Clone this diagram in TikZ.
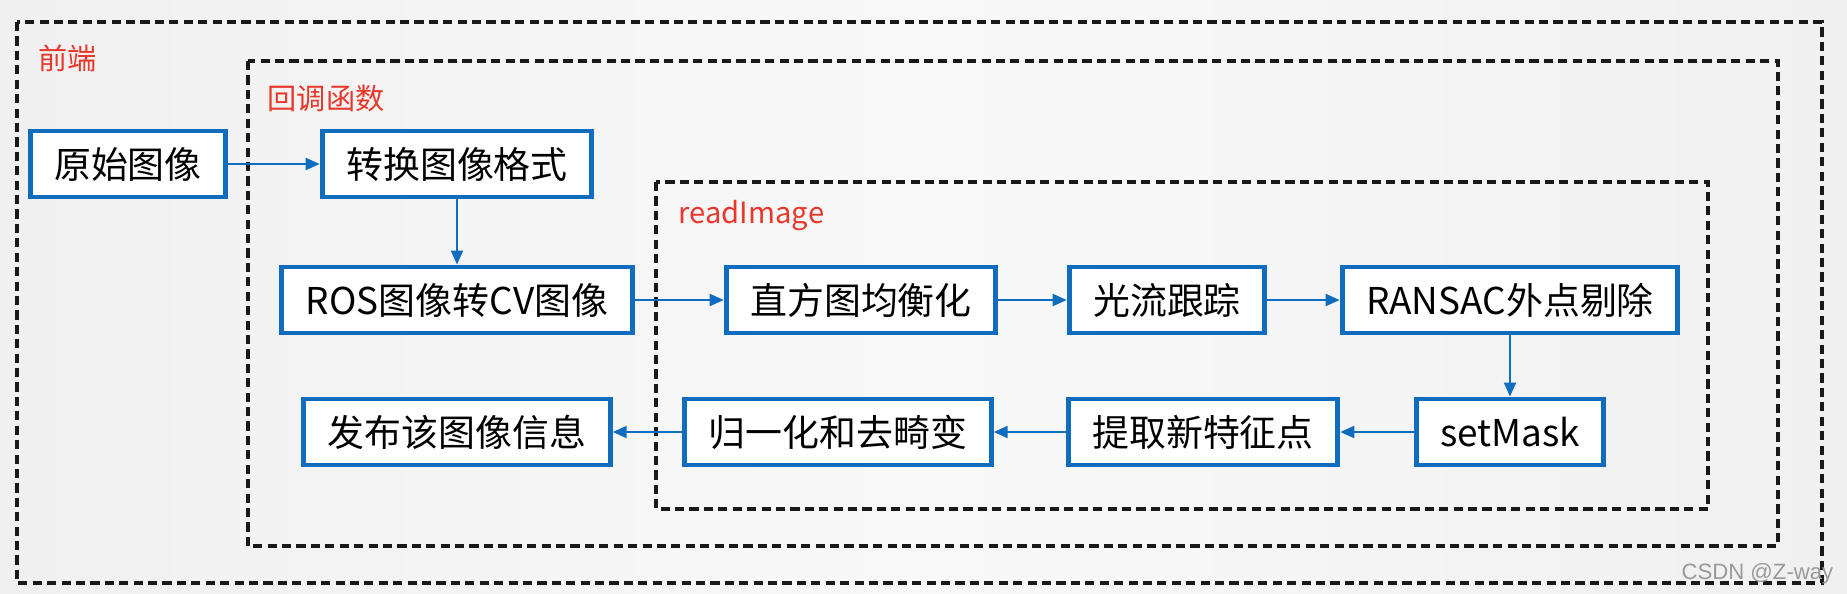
\documentclass[tikz,border=0pt]{standalone}
\usepackage{fontspec}
\setmainfont{Noto Sans CJK SC}
\newfontfamily\markfont{Liberation Sans}
\usetikzlibrary{arrows.meta}
\definecolor{boxblue}{RGB}{16,108,190}
\definecolor{tagred}{RGB}{232,56,43}
\definecolor{bggray}{RGB}{240,240,240}
\definecolor{bglight}{RGB}{248,248,248}

\begin{document}
\begin{tikzpicture}[x=0.01cm,y=-0.01cm,
    box/.style={draw=boxblue,line width=1.4pt,fill=white,inner xsep=0.24cm,
      minimum height=0.66cm,font=\fontsize{10.5}{12}\selectfont},
    flow/.style={draw=boxblue,line width=0.6pt,-{Triangle[length=0.14cm,width=0.12cm]}},
    frame/.style={draw=black!90,line width=0.9pt,dash pattern=on 2.6pt off 1.5pt},
    tag/.style={text=tagred,anchor=west,inner sep=0pt,font=\fontsize{8.3}{10}\selectfont}]
      \shade[left color=bggray,right color=bggray,middle color=bglight] (0,0) rectangle (1847,593);
      \useasboundingbox (0,0) rectangle (1847,593);
      % frames
      \draw[frame] (17,22) rectangle (1822,583);
      \draw[frame] (248,61) rectangle (1778,546);
      \draw[frame] (656,182) rectangle (1708,509);
      \node[tag] (qd) at (38,58) {前端};
      \node[tag] (hd) at (267,98) {回调函数};
      \node[tag] (ri) at (678,216) {readImage};
      % boxes
      \node[box] (raw) at (128,164) {原始图像};
      \node[box] (conv) at (457,164) {转换图像格式};
      \node[box] (ros) at (457,300) {ROS图像转CV图像};
      \node[box] (hist) at (861,300) {直方图均衡化};
      \node[box] (flowtrk) at (1167,300) {光流跟踪};
      \node[box] (ransac) at (1510,300) {RANSAC外点剔除};
      \node[box] (mask) at (1510,432) {setMask};
      \node[box] (newpt) at (1203,432) {提取新特征点};
      \node[box] (undist) at (838,432) {归一化和去畸变};
      \node[box] (pub) at (457,432) {发布该图像信息};
      \node[text=black!40,anchor=east,inner sep=0pt,font=\markfont\fontsize{6.3}{7}\selectfont] (wm) at (1834,574) {CSDN @Z-way};
      % arrows
      \draw[flow] (raw) -- (conv);
      \draw[flow] (conv) -- (ros);
      \draw[flow] (ros) -- (hist);
      \draw[flow] (hist) -- (flowtrk);
      \draw[flow] (flowtrk) -- (ransac);
      \draw[flow] (ransac) -- (mask);
      \draw[flow] (mask) -- (newpt);
      \draw[flow] (newpt) -- (undist);
      \draw[flow] (undist) -- (pub);
    \end{tikzpicture}
\end{document}
